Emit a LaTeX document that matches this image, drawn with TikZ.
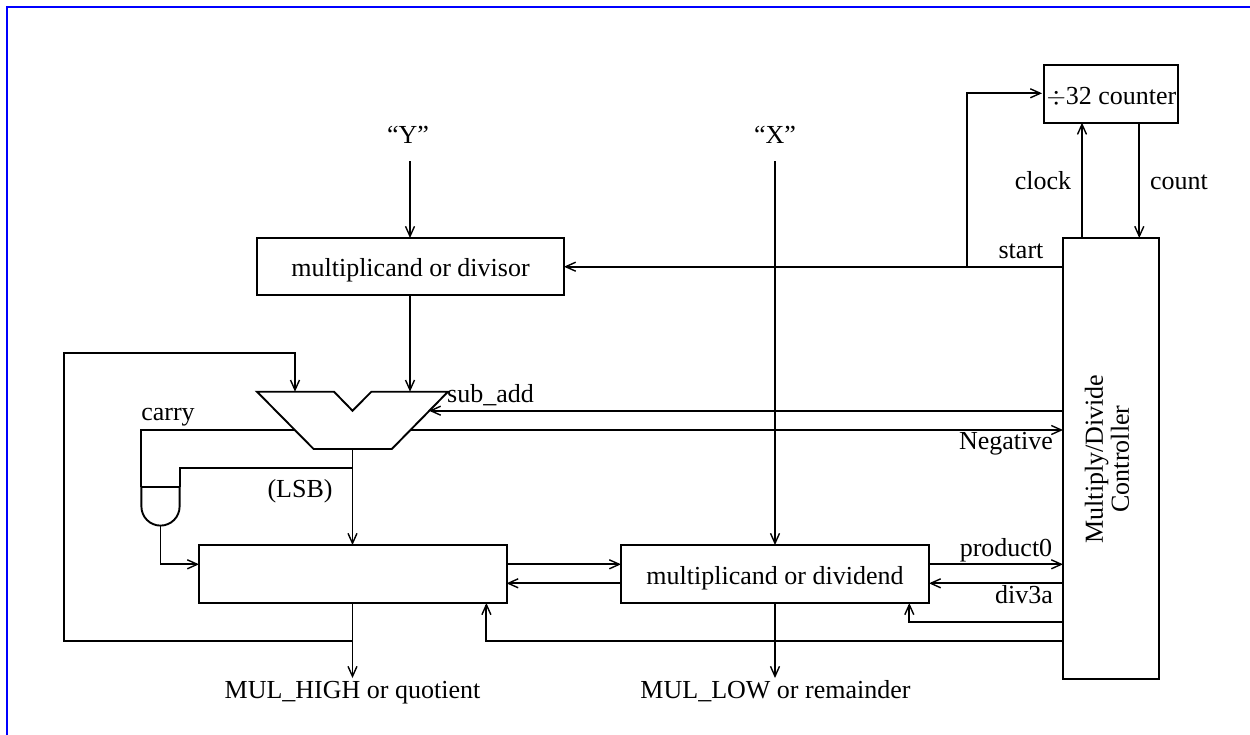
\documentclass[tikz,border=0pt]{standalone}
\usepackage{fontspec}
\setmainfont{Liberation Serif}
\usetikzlibrary{arrows.meta}
\tikzset{
  x=1pt,y=-1pt,
  wire/.style={line width=1.9pt,line join=miter},
  arr/.style={wire,-{Straight Barb[length=10pt,width=9pt,line width=1.4pt]}},
  box/.style={draw,line width=2pt,inner sep=0pt,outer sep=0pt,anchor=north west},
  lbl/.style={inner sep=0pt,anchor=base,font=\fontsize{26}{29}\selectfont},
}
\begin{document}
\begin{tikzpicture}
\useasboundingbox (0,0) rectangle (1250,734);
\draw[blue,line width=2.2pt] (7,800) -- (7,7) -- (1300,7);
% boxes
\node[box,minimum width=134pt,minimum height=57.5pt] (cnt) at (1044,65) {};
\node[lbl] (cntl) at (1111.5,104) {$\div$32 counter};
\node[box,minimum width=96pt,minimum height=441pt] (ctrl) at (1063,238) {};
\node[lbl,anchor=center,rotate=90,align=center] (ctrll) at (1107,459) {Multiply/Divide\\[-3pt]Controller};
\node[box,minimum width=307pt,minimum height=57pt] (rd) at (257,238) {};
\node[lbl] (rdl) at (410.5,276.5) {multiplicand or divisor};
\node[box,minimum width=307.5pt,minimum height=58pt] (rh) at (199,545) {};
\node[box,minimum width=308pt,minimum height=58pt] (rl) at (621,545) {};
\node[lbl] (rll) at (775,584) {multiplicand or dividend};
% ALU
\coordinate (atl) at (257,391.7);
\coordinate (an1) at (334,391.7);
\coordinate (anb) at (352.5,410.7);
\coordinate (an2) at (371.4,391.7);
\coordinate (atr) at (448,391.7);
\coordinate (abr) at (391.8,449);
\coordinate (abl) at (313.6,449);
\draw[wire] (atl) -- (an1) -- (anb) -- (an2) -- (atr) -- (abr) -- (abl) -- cycle;
\coordinate (ain1) at (295,391.7);
\coordinate (ain2) at (410,391.7);
\coordinate (aleft) at (295,430);
\coordinate (aright) at (410.5,430);
\coordinate (asub) at (429,410.7);
\coordinate (aout) at (352.5,449);
% AND gate
\coordinate (gl) at (141.4,487);
\coordinate (gr) at (179.6,487);
\coordinate (go) at (160.5,525.7);
\draw[wire] (gl) -- (gr) -- (179.6,506.5) arc[start angle=0,end angle=180,radius=19.1] -- cycle;
% labels and sources
\node[lbl] (ly) at (408,143) {“Y”};
\node[lbl] (lx) at (775,143) {“X”};
\coordinate (ys) at (410,161);
\coordinate (xs) at (775,161);
\draw[arr] (ys) -- (ys |- rd.north);
\draw[arr] (xs) -- (xs |- rl.north);
\draw[arr] (ain2 |- rd.south) -- (ain2);
% controller links
\coordinate (cstart) at (1063,266.7);
\coordinate (jn) at (967,266.7);
\draw[arr] (cstart) -- (cstart -| rd.east);
\draw[arr] (jn) |- (1042,93.3);
\draw[arr] (1082,238) -- (1082,122.7);
\draw[arr] (1139.3,122.7) -- (1139.3,238);
\draw[arr] (ctrl.west |- asub) -- (asub);
\draw[arr] (aright) -- (ctrl.west |- aright);
\draw[wire] (aleft) -| (gl);
\coordinate (lsbj) at (352.5,468);
\draw[wire] (lsbj) -| (gr);
\draw[arr] (aout) -- (aout |- rh.north);
\draw[arr] (go) |- (199,564.3);
\draw[arr] (rh.east |- 0,564.3) -- (rl.west |- 0,564.3);
\draw[arr] (rl.west |- 0,583.3) -- (rh.east |- 0,583.3);
\draw[arr] (rl.east |- 0,564.3) -- (ctrl.west |- 0,564.3);
\draw[arr] (ctrl.west |- 0,583.3) -- (rl.east |- 0,583.3);
\draw[arr] (ctrl.west |- 0,621.7) -| (909.3,603);
\draw[arr] (ctrl.west |- 0,641) -| (486.4,603);
\coordinate (hout) at (352.5,603);
\coordinate (hend) at (352.5,678);
\draw[arr] (hout) -- (hend);
\draw[arr] (775,603) -- (775,678);
\draw[wire] (352.5,641) -| (64,353) -| (295,370);
\draw[arr] (295,370) -- (ain1);
% text
\node[lbl] (t1) at (1021,258) {start};
\node[lbl] (t2) at (1043,189) {clock};
\node[lbl] (t3) at (1179,189) {count};
\node[lbl] (t4) at (490.5,402) {sub\_add};
\node[lbl] (t5) at (168,420) {carry};
\node[lbl] (t6) at (300,497) {(LSB)};
\node[lbl] (t7) at (1006,449) {Negative};
\node[lbl] (t8) at (1006,556) {product0};
\node[lbl] (t9) at (1024,603) {div3a};
\node[lbl] (t10) at (352.5,698) {MUL\_HIGH or quotient};
\node[lbl] (t11) at (775.5,698) {MUL\_LOW or remainder};
\end{tikzpicture}
\end{document}
